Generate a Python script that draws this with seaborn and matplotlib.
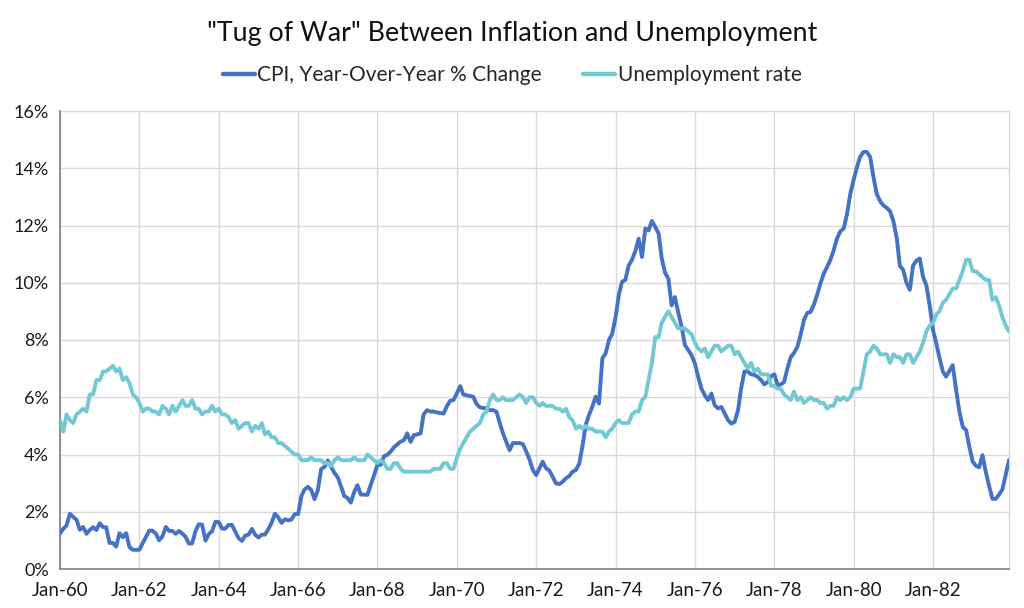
import pandas as pd
import numpy as np
import matplotlib
matplotlib.use("Agg")
import matplotlib.pyplot as plt
import matplotlib.dates as mdates
import seaborn as sns

# ---- data (monthly, Jan 1960 - Dec 1983, values in %) ----
cpi_yoy = [
    1.24, 1.41, 1.52, 1.93, 1.82, 1.72, 1.37, 1.47, 1.23, 1.36, 1.46, 1.36,   # 1960
    1.60, 1.46, 1.46, 0.91, 0.91, 0.78, 1.25, 1.11, 1.25, 0.77, 0.67, 0.67,   # 1961
    0.67, 0.91, 1.11, 1.34, 1.34, 1.24, 1.00, 1.14, 1.47, 1.33, 1.33, 1.23,   # 1962
    1.33, 1.23, 1.13, 0.89, 0.89, 1.32, 1.56, 1.55, 0.99, 1.22, 1.32, 1.65,   # 1963
    1.64, 1.41, 1.41, 1.54, 1.54, 1.31, 1.08, 0.98, 1.17, 1.20, 1.40, 1.20,   # 1964
    1.10, 1.20, 1.20, 1.39, 1.61, 1.93, 1.81, 1.61, 1.74, 1.70, 1.73, 1.92,   # 1965
    1.92, 2.56, 2.78, 2.87, 2.76, 2.44, 2.75, 3.49, 3.57, 3.79, 3.56, 3.36,   # 1966
    3.20, 2.87, 2.55, 2.48, 2.32, 2.69, 2.93, 2.60, 2.60, 2.59, 2.95, 3.28,   # 1967
    3.65, 3.64, 3.94, 3.99, 4.10, 4.25, 4.35, 4.45, 4.50, 4.74, 4.44, 4.68,   # 1968
    4.70, 4.74, 5.40, 5.55, 5.50, 5.50, 5.47, 5.45, 5.43, 5.69, 5.88, 5.90,   # 1969
    6.14, 6.39, 6.10, 6.07, 6.04, 6.02, 5.76, 5.65, 5.62, 5.62, 5.55, 5.55,   # 1970
    5.49, 5.08, 4.74, 4.44, 4.15, 4.40, 4.40, 4.40, 4.36, 4.11, 3.82, 3.46,   # 1971
    3.28, 3.52, 3.75, 3.52, 3.44, 3.22, 2.99, 2.97, 3.05, 3.17, 3.25, 3.40,   # 1972
    3.46, 3.69, 4.27, 5.03, 5.38, 5.67, 6.02, 5.78, 7.36, 7.53, 8.00, 8.22,   # 1973
    8.80, 9.60, 10.03, 10.10, 10.60, 10.80, 11.10, 11.54, 10.90, 11.89, 11.83, 12.16,  # 1974
    11.95, 11.72, 10.87, 10.35, 10.15, 9.21, 9.50, 8.95, 8.46, 7.82, 7.65, 7.47,  # 1975
    7.18, 6.70, 6.30, 6.07, 5.90, 6.13, 5.72, 5.61, 5.66, 5.43, 5.20, 5.08,   # 1976
    5.14, 5.55, 6.30, 6.90, 6.90, 6.80, 6.78, 6.71, 6.60, 6.45, 6.53, 6.73,   # 1977
    6.80, 6.42, 6.45, 6.53, 7.00, 7.40, 7.55, 7.76, 8.20, 8.70, 8.95, 8.98,   # 1978
    9.25, 9.60, 9.97, 10.32, 10.55, 10.80, 11.13, 11.55, 11.80, 11.89, 12.40, 13.10,  # 1979
    13.60, 14.05, 14.40, 14.57, 14.57, 14.40, 13.70, 13.10, 12.85, 12.70, 12.62, 12.50,  # 1980
    12.15, 11.55, 10.60, 10.45, 10.00, 9.75, 10.60, 10.77, 10.85, 10.20, 9.90, 9.20,  # 1981
    8.34, 7.86, 7.38, 6.90, 6.72, 6.93, 7.12, 6.25, 5.49, 4.97, 4.85, 4.27,   # 1982
    3.75, 3.60, 3.55, 3.98, 3.40, 2.90, 2.45, 2.45, 2.60, 2.78, 3.30, 3.80,   # 1983
]

unemployment = [
    5.2, 4.8, 5.4, 5.2, 5.1, 5.4, 5.5, 5.6, 5.5, 6.1, 6.1, 6.6,   # 1960
    6.6, 6.9, 6.9, 7.0, 7.1, 6.9, 7.0, 6.6, 6.7, 6.5, 6.1, 6.0,   # 1961
    5.8, 5.5, 5.6, 5.6, 5.5, 5.5, 5.4, 5.7, 5.6, 5.4, 5.7, 5.5,   # 1962
    5.7, 5.9, 5.7, 5.7, 5.9, 5.6, 5.6, 5.4, 5.5, 5.5, 5.7, 5.5,   # 1963
    5.6, 5.4, 5.4, 5.3, 5.1, 5.2, 4.9, 5.0, 5.1, 5.1, 4.8, 5.0,   # 1964
    4.9, 5.1, 4.7, 4.8, 4.6, 4.6, 4.4, 4.4, 4.3, 4.2, 4.1, 4.0,   # 1965
    4.0, 3.8, 3.8, 3.8, 3.9, 3.8, 3.8, 3.8, 3.7, 3.7, 3.6, 3.8,   # 1966
    3.9, 3.8, 3.8, 3.8, 3.8, 3.9, 3.8, 3.8, 3.8, 4.0, 3.9, 3.8,   # 1967
    3.7, 3.8, 3.7, 3.5, 3.5, 3.7, 3.7, 3.5, 3.4, 3.4, 3.4, 3.4,   # 1968
    3.4, 3.4, 3.4, 3.4, 3.4, 3.5, 3.5, 3.5, 3.7, 3.7, 3.5, 3.5,   # 1969
    3.9, 4.2, 4.4, 4.6, 4.8, 4.9, 5.0, 5.1, 5.4, 5.5, 5.9, 6.1,   # 1970
    5.9, 5.9, 6.0, 5.9, 5.9, 5.9, 6.0, 6.1, 6.0, 5.8, 6.0, 6.0,   # 1971
    5.8, 5.7, 5.8, 5.7, 5.7, 5.7, 5.6, 5.6, 5.5, 5.6, 5.3, 5.2,   # 1972
    4.9, 5.0, 4.9, 5.0, 4.9, 4.9, 4.8, 4.8, 4.8, 4.6, 4.8, 4.9,   # 1973
    5.1, 5.2, 5.1, 5.1, 5.1, 5.4, 5.5, 5.5, 5.9, 6.0, 6.6, 7.2,   # 1974
    8.1, 8.1, 8.6, 8.8, 9.0, 8.8, 8.6, 8.4, 8.4, 8.4, 8.3, 8.2,   # 1975
    7.9, 7.7, 7.6, 7.7, 7.4, 7.6, 7.8, 7.8, 7.6, 7.7, 7.8, 7.8,   # 1976
    7.5, 7.6, 7.4, 7.2, 7.0, 7.2, 6.9, 7.0, 6.8, 6.8, 6.8, 6.4,   # 1977
    6.4, 6.3, 6.3, 6.1, 6.0, 5.9, 6.2, 5.9, 6.0, 5.8, 5.9, 6.0,   # 1978
    5.9, 5.9, 5.8, 5.8, 5.6, 5.7, 5.7, 6.0, 5.9, 6.0, 5.9, 6.0,   # 1979
    6.3, 6.3, 6.3, 6.9, 7.5, 7.6, 7.8, 7.7, 7.5, 7.5, 7.5, 7.2,   # 1980
    7.5, 7.4, 7.4, 7.2, 7.5, 7.5, 7.2, 7.4, 7.6, 7.9, 8.3, 8.5,   # 1981
    8.6, 8.9, 9.0, 9.3, 9.4, 9.6, 9.8, 9.8, 10.1, 10.4, 10.8, 10.8,  # 1982
    10.4, 10.4, 10.3, 10.2, 10.1, 10.1, 9.4, 9.5, 9.2, 8.8, 8.5, 8.3,  # 1983
]

months = pd.date_range("1960-01-01", periods=len(cpi_yoy), freq="MS")
tick_years = list(range(1960, 1984, 2))

df = pd.DataFrame({
    "Date": months,
    "CPI, Year-Over-Year % Change": cpi_yoy,
    "Unemployment rate": unemployment,
})
long_df = df.melt(id_vars="Date", var_name="Series", value_name="Value")

# ---- style ----
sns.set_style("white")
plt.rcParams["font.family"] = ["Lato", "DejaVu Sans"]

fig = plt.figure(figsize=(10.24, 6.08), dpi=100)
ax = fig.add_axes([60 / 1024, 39 / 608, 949 / 1024, 458 / 608])

palette = {"CPI, Year-Over-Year % Change": "#4472C4", "Unemployment rate": "#72C8D4"}
sns.lineplot(data=long_df, x="Date", y="Value", hue="Series", palette=palette,
             linewidth=2.8, ax=ax, legend=False, zorder=3)

# axes
ax.set_xlim(months[0], months[-1])
ax.set_ylim(0, 16)
ax.set_yticks(np.arange(0, 17, 2))
ax.set_yticklabels([f"{v}%" for v in range(0, 17, 2)], fontsize=13, color="#1a1a1a")
ax.set_xticks([pd.Timestamp(f"{y}-01-01") for y in tick_years])
ax.xaxis.set_major_formatter(mdates.DateFormatter("%b-%y"))
ax.tick_params(axis="x", labelsize=13.5, colors="#1a1a1a", length=0, pad=9)
ax.tick_params(axis="y", length=0, pad=8)
ax.set_xlabel("")
ax.set_ylabel("")

ax.grid(True, color="#d9d9d9", linewidth=1.0, zorder=0)
ax.set_axisbelow(True)
ax.spines["top"].set_visible(False)
ax.spines["right"].set_color("#d9d9d9")
ax.spines["right"].set_linewidth(1.0)
ax.spines["left"].set_color("#7f7f7f")
ax.spines["bottom"].set_color("#7f7f7f")
ax.spines["left"].set_linewidth(1.2)
ax.spines["bottom"].set_linewidth(1.2)

# title and legend
fig.text(0.5, 1 - 33 / 608, '"Tug of War" Between Inflation and Unemployment',
         ha="center", va="center", fontsize=19.3, color="#111111")

handles = [plt.Line2D([], [], color=palette[k], linewidth=3.2) for k in palette]
fig.legend(handles, list(palette.keys()), loc="center", bbox_to_anchor=(0.5, 1 - 75 / 608),
           ncol=2, frameon=False, fontsize=15, handlelength=1.55, handletextpad=0.1,
           columnspacing=2.0)

fig.savefig("out.png", dpi=100, facecolor="white")
